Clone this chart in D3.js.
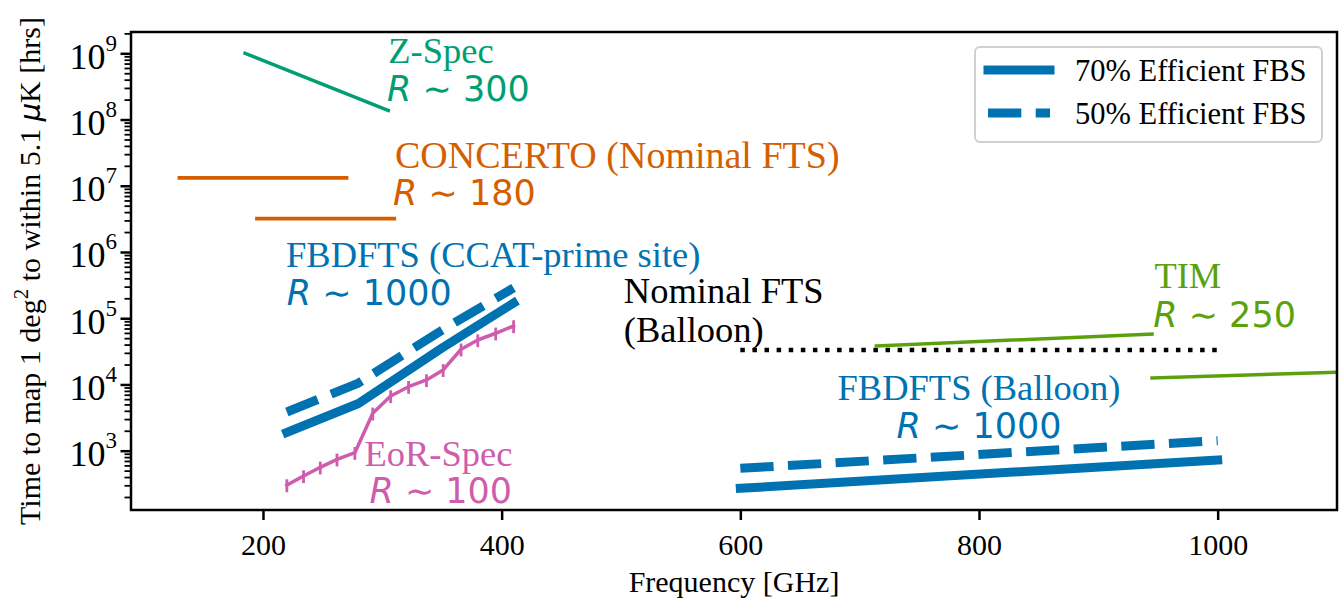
<!DOCTYPE html>
<html>
<head>
<meta charset="utf-8">
<title>Mapping time vs frequency</title>
<script src="https://cdn.jsdelivr.net/npm/d3@7"></script>
<style>
  body { margin: 0; background: #fff; }
  text { font-family: 'Liberation Serif', 'Times New Roman', serif; }
  .math { font-family: 'DejaVu Sans', sans-serif; }
</style>
</head>
<body>
<div id="chart"></div>
<script>
// ---- data (frequency in GHz, time in hours) ----
const freqTicks = [200, 400, 600, 800, 1000];
const timeTicks = [1e3, 1e4, 1e5, 1e6, 1e7, 1e8, 1e9];

const zspecFreq = [185, 305];
const zspecTime = [1.0e9, 1.37e8];

const concertoLowFreq = [130, 270];
const concertoLowTime = [1.32e7, 1.32e7];
const concertoHighFreq = [195, 310];
const concertoHighTime = [3.2e6, 3.2e6];

const ccatFreq = [220, 280, 350, 410];
const ccat70 = [1890, 5160, 35500, 170000];
const ccat50 = [3840, 10500, 66000, 287000];

const balloonFreq = [600, 1000];
const balloon70 = [270, 724];
const balloon50 = [542, 1415];

const nominalFreq = [600, 1000];
const nominalTime = [33000, 33000];

const timLongFreq = [714, 945];
const timLongTime = [38100, 57800];
const timShortFreq = [945, 1100];
const timShortTime = [12500, 15300];

const eorFreq = [220, 234, 248, 262, 277, 292, 307, 322, 337, 351, 366, 380, 395, 410];
const eorTime = [303, 415, 561, 741, 933, 3670, 6700, 9250, 11700, 16600, 34000, 46900, 59300, 76400];
const eorErr  = [67, 91, 123, 163, 205, 807, 1470, 2030, 2570, 3650, 7480, 10300, 13000, 16800];

// ---- layout ----
const width = 1342, height = 602;
const margin = {top: 32, right: 5, bottom: 92, left: 131};

const colors = {
  zspec: "#009e73",
  concerto: "#d55e00",
  fbs: "#0072b2",
  eor: "#cf5cac",
  tim: "#5ba10c",
  nominal: "#000000"
};

const x = d3.scaleLinear()
    .domain([89.4, 1100])
    .range([margin.left, width - margin.right]);
const y = d3.scaleLog()
    .domain([127.2, 2.097e9])
    .range([height - margin.bottom, margin.top]);

const svg = d3.select("#chart").append("svg")
    .attr("width", width)
    .attr("height", height);

svg.append("clipPath").attr("id", "plot-clip")
  .append("rect")
    .attr("x", margin.left).attr("y", margin.top)
    .attr("width", width - margin.left - margin.right)
    .attr("height", height - margin.top - margin.bottom);

// ---- series ----
const series = [
  {f: zspecFreq, t: zspecTime, color: colors.zspec, w: 3.5},
  {f: concertoLowFreq, t: concertoLowTime, color: colors.concerto, w: 3.8},
  {f: concertoHighFreq, t: concertoHighTime, color: colors.concerto, w: 3.8},
  {f: ccatFreq, t: ccat70, color: colors.fbs, w: 9},
  {f: ccatFreq, t: ccat50, color: colors.fbs, w: 9, dash: "33.3,14.4"},
  {f: balloonFreq, t: balloon70, color: colors.fbs, w: 9},
  {f: balloonFreq, t: balloon50, color: colors.fbs, w: 9, dash: "33.3,14.4"},
  {f: nominalFreq, t: nominalTime, color: colors.nominal, w: 4.5, dash: "4.5,7.6"},
  {f: timLongFreq, t: timLongTime, color: colors.tim, w: 3.5},
  {f: timShortFreq, t: timShortTime, color: colors.tim, w: 3.5},
  {f: eorFreq, t: eorTime, color: colors.eor, w: 3.5}
];

const line = d3.line()
    .x(d => x(d[0]))
    .y(d => y(d[1]));

const plot = svg.append("g").attr("clip-path", "url(#plot-clip)");

plot.selectAll("path.series")
  .data(series)
  .enter().append("path")
    .attr("class", "series")
    .attr("fill", "none")
    .attr("stroke", d => d.color)
    .attr("stroke-width", d => d.w)
    .attr("stroke-linecap", d => d.dash ? "butt" : "square")
    .attr("stroke-linejoin", "round")
    .attr("stroke-dasharray", d => d.dash || null)
    .attr("d", d => line(d3.zip(d.f, d.t)));

// EoR-Spec error bars
plot.selectAll("line.err")
  .data(d3.zip(eorFreq, eorTime, eorErr))
  .enter().append("line")
    .attr("class", "err")
    .attr("x1", d => x(d[0])).attr("x2", d => x(d[0]))
    .attr("y1", d => y(d[1] - d[2])).attr("y2", d => y(d[1] + d[2]))
    .attr("stroke", colors.eor)
    .attr("stroke-width", 2.8);

// ---- axes ----
const xAxis = svg.append("g")
    .attr("transform", `translate(0, ${height - margin.bottom})`)
    .call(d3.axisBottom(x).tickValues(freqTicks).tickFormat(d3.format("d"))
      .tickSize(10).tickPadding(14).tickSizeOuter(0));
xAxis.select(".domain").remove();
xAxis.selectAll("line").attr("stroke-width", 2.5);
xAxis.selectAll("text").attr("font-size", 30).attr("font-family", "'Liberation Serif', serif");

const minorTicks = [];
for (let e = 2; e <= 9; e++) {
  for (let m = 2; m <= 9; m++) {
    const v = m * Math.pow(10, e);
    if (v >= y.domain()[0] && v <= y.domain()[1]) minorTicks.push(v);
  }
}

const yMinor = svg.append("g")
    .attr("transform", `translate(${margin.left}, 0)`)
    .call(d3.axisLeft(y).tickValues(minorTicks).tickSize(6.5).tickFormat(""));
yMinor.select(".domain").remove();
yMinor.selectAll("line").attr("stroke-width", 1.8);

const yAxis = svg.append("g")
    .attr("transform", `translate(${margin.left}, 0)`)
    .call(d3.axisLeft(y).tickValues(timeTicks).tickSize(10.5).tickFormat(""));
yAxis.select(".domain").remove();
yAxis.selectAll("line").attr("stroke-width", 2.5);

const yLab = yAxis.selectAll("g.tick").append("text")
    .attr("x", -14)
    .attr("y", 15)
    .attr("fill", "#000")
    .attr("text-anchor", "end")
    .attr("font-family", "'Liberation Serif', serif");
yLab.append("tspan").attr("font-size", 36).text("10");
yLab.append("tspan").attr("font-size", 23).attr("dy", -18)
    .text(d => Math.round(Math.log10(d)));

// frame
svg.append("rect")
    .attr("x", margin.left).attr("y", margin.top)
    .attr("width", width - margin.left - margin.right)
    .attr("height", height - margin.top - margin.bottom)
    .attr("fill", "none")
    .attr("stroke", "#000")
    .attr("stroke-width", 2.5);

// axis labels
svg.append("text")
    .attr("x", (margin.left + width - margin.right) / 2)
    .attr("y", 592)
    .attr("text-anchor", "middle")
    .attr("font-size", 30)
    .text("Frequency [GHz]");

const yTitle = svg.append("text")
    .attr("transform", `translate(40, ${(margin.top + height - margin.bottom) / 2}) rotate(-90)`)
    .attr("text-anchor", "middle")
    .attr("font-size", 30);
yTitle.append("tspan").text("Time to map 1 deg");
yTitle.append("tspan").attr("font-size", 21).attr("dy", -12).text("2");
yTitle.append("tspan").attr("dy", 12).text(" to within 5.1 ");
yTitle.append("tspan").attr("class", "math").attr("font-style", "italic").attr("font-size", 29).text("μ");
yTitle.append("tspan").text("K [hrs]");

// ---- annotations (anchored in data coordinates) ----
const labels = [
  {f: 305, t: 7.2e8, text: "Z-Spec", color: colors.zspec},
  {f: 304, t: 1.93e8, r: "300", color: colors.zspec},
  {f: 310.6, t: 1.85e7, text: "CONCERTO (Nominal FTS)", color: colors.concerto, size: 38},
  {f: 309, t: 5.13e6, r: "180", color: colors.concerto},
  {f: 219.3, t: 5.9e5, text: "FBDFTS (CCAT-prime site)", color: colors.fbs},
  {f: 220, t: 1.58e5, r: "1000", color: colors.fbs},
  {f: 502.4, t: 1.68e5, text: "Nominal FTS", color: colors.nominal},
  {f: 502.4, t: 4.43e4, text: "(Balloon)", color: colors.nominal},
  {f: 947, t: 2.83e5, text: "TIM", color: colors.tim},
  {f: 946, t: 7.45e4, r: "250", color: colors.tim},
  {f: 800, t: 5840, text: "FBDFTS (Balloon)", color: colors.fbs, anchor: "middle"},
  {f: 800, t: 1540, r: "1000", color: colors.fbs, anchor: "middle"},
  {f: 347, t: 588, text: "EoR-Spec", color: colors.eor, anchor: "middle"},
  {f: 349, t: 162, r: "100", color: colors.eor, anchor: "middle"}
];

const ann = svg.selectAll("text.ann")
  .data(labels)
  .enter().append("text")
    .attr("class", d => d.r ? "ann math" : "ann")
    .attr("x", d => x(d.f))
    .attr("y", d => y(d.t))
    .attr("text-anchor", d => d.anchor || "start")
    .attr("fill", d => d.color)
    .attr("font-size", d => d.size || (d.r ? 35 : 36.5));

ann.filter(d => !d.r).text(d => d.text);
ann.filter(d => d.r).each(function(d) {
  const t = d3.select(this);
  t.append("tspan").attr("font-style", "italic").text("R");
  t.append("tspan").text(" ∼ " + d.r);
});

// ---- legend ----
const legendItems = [
  {label: "70% Efficient FBS", dash: null},
  {label: "50% Efficient FBS", dash: "33.3,14.4"}
];

const legend = svg.append("g");
legend.append("rect")
    .attr("x", 975).attr("y", 47)
    .attr("width", 347).attr("height", 95)
    .attr("rx", 5)
    .attr("fill", "#fff")
    .attr("fill-opacity", 0.8)
    .attr("stroke", "#d0d0d0")
    .attr("stroke-width", 2);

const li = legend.selectAll("g.item")
  .data(legendItems)
  .enter().append("g")
    .attr("transform", (d, i) => `translate(0, ${70 + i * 43})`);
li.append("line")
    .attr("x1", 988).attr("x2", 1050)
    .attr("stroke", colors.fbs)
    .attr("stroke-width", 9)
    .attr("stroke-linecap", d => d.dash ? "butt" : "square")
    .attr("stroke-dasharray", d => d.dash);
li.append("text")
    .attr("x", 1075)
    .attr("y", 11)
    .attr("font-size", 30.5)
    .text(d => d.label);
</script>
</body>
</html>
